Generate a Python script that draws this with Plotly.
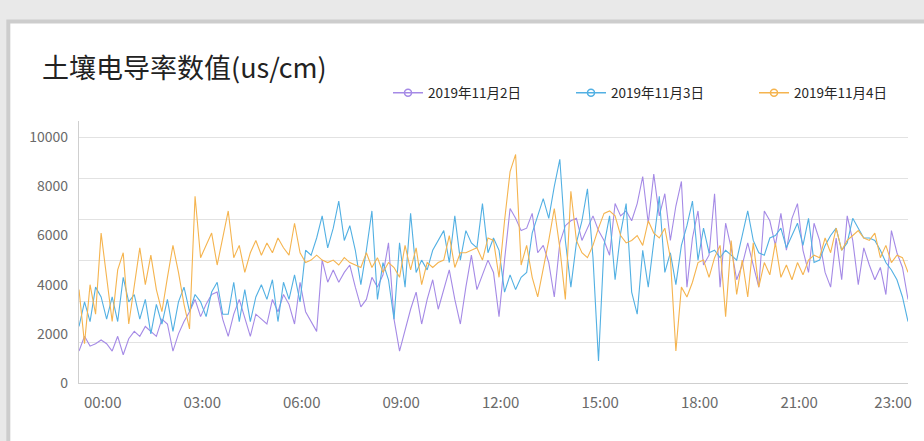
import plotly.graph_objects as go

# ---- data ----
title_text = "土壤电导率数值(us/cm)"
series_names = ["2019年11月2日", "2019年11月3日", "2019年11月4日"]
colors = ["#a58ae6", "#52b0e3", "#f5b44f"]

# sample times in minutes from midnight (10-minute sampling)
minutes = [-43 + 10 * i for i in range(151)]

purple = [1300, 1900, 1500, 1600, 1750, 1600, 1300, 1900, 1150, 1800,
          2100, 1900, 2300, 2100, 1900, 2600, 2400, 1300, 2000, 2500,
          2900, 3400, 2700, 3200, 3600,
          3700, 2600, 1900, 2800, 3400, 2700, 1900, 2800, 2600, 2400,
          3400, 2900, 3600, 3200, 2400, 4100, 2900, 2500, 2100, 5000,
          4100, 4600, 4100, 4500, 4800,
          3900, 3100, 3400, 4300, 3900, 4400, 5700, 2600, 1300, 2200,
          3000, 3700, 2400, 3400, 4200, 3000, 3800, 4600, 3400, 2400,
          3900, 5200, 3800, 4400, 5000,
          4500, 2700, 5000, 7100, 6700, 6200, 6300, 6900, 5300, 5600,
          4900, 3500, 5700, 6400, 6600, 6700, 5800, 6300, 6800, 6200,
          5800, 5200, 7300, 6800, 7000, 6600,
          7300, 8400, 6500, 8500, 6800, 7700, 5800, 7200, 8200, 3900,
          5900, 7000, 4800, 5200, 7700, 3900, 6500, 5500, 4200, 4800,
          5700, 4800, 3900, 7000, 6600,
          5600, 6900, 5400, 6700, 7300, 5400, 4500, 6500, 5800, 4500,
          3900, 5900, 4200, 6800, 5800, 4000, 5500, 4800, 4200, 4700,
          3600, 6200, 5300, 4700, 3400]

blue = [2300, 3300, 2500, 3900, 3500, 2600, 3500, 2500, 4300, 3300,
        3600, 2600, 3400, 2000, 3200, 2400, 3400, 2100, 3300, 3900,
        2900, 3600, 3300, 2700, 3700,
        4100, 2800, 2800, 4100, 2500, 3800, 2500, 3500, 4000, 3400,
        4200, 2500, 4100, 3400, 4400, 3300, 5400, 5200, 5900, 6800,
        5500, 6300, 7400, 5800, 6400,
        5400, 4000, 5400, 7000, 3400, 4900, 4200, 2600, 5700, 3900,
        6900, 4500, 5000, 4600, 5400, 5800, 6200, 4900, 6800, 5000,
        6200, 5700, 5500, 7300, 5300,
        5900, 5400, 3700, 4400, 3800, 4300, 4500, 6100, 6800, 7500,
        6700, 8000, 9100, 5800, 3900, 5700, 6600, 7900, 5100, 900,
        5600, 6800, 4200, 6100, 7300, 3700,
        2800, 5400, 3900, 5800, 7600, 4500, 5300, 4000, 5600, 6400,
        7400, 5000, 6300, 5300, 5400, 5100, 5400, 5200, 5000, 6000,
        7000, 5800, 5300, 5200, 5900,
        6000, 6300, 5500, 6000, 6500, 5600, 6700, 4900, 5000, 5600,
        6000, 6300, 5400, 5700, 6700, 6300, 5900, 5900, 5800, 5400,
        4900, 4600, 4200, 3500, 2500]

orange = [3800, 1600, 4000, 2800, 6100, 4300, 2500, 4600, 5300, 2400,
          4000, 5500, 4000, 5200, 3800, 2900, 4300, 5600, 4500, 3200,
          2200, 7600, 5100, 5600, 6100,
          4800, 5900, 7000, 5100, 5600, 4500, 5300, 5800, 5200, 5700,
          5300, 5900, 5500, 5200, 6500, 5300, 4900, 5000, 5200, 5000,
          4900, 5000, 4800, 5100, 4900,
          4800, 4700, 5300, 4700, 5100, 4500, 4900, 4700, 4300, 5600,
          4600, 5500, 4000, 4900, 4700, 4900, 5000, 6000, 4700, 5300,
          5300, 5400, 5500, 5000, 5900,
          5800, 4300, 6600, 8600, 9300, 4800, 5600, 4300, 3500, 4600,
          5800, 7100, 5500, 3400, 7800, 5800, 5300, 5100, 5600, 6300,
          6900, 7000, 6800, 6000, 5700, 5800,
          6000, 5600, 6600, 6100, 5900, 6300, 5100, 1300, 3900, 3500,
          4100, 4900, 5000, 4300, 5100, 5600, 2700, 5800, 3600, 5000,
          3500, 5700, 3900, 4900, 4400,
          5700, 4300, 4800, 4200, 4900, 4400, 5000, 5200, 5100, 5900,
          5300, 6300, 5400, 5800, 6000, 6200, 5900, 5800, 6100, 5100,
          5600, 4900, 5200, 5100, 4500]

y_label_ticks = [0, 2000, 4000, 6000, 8000, 10000]
y_label_text = ["0", "2000", "4000", "6000", "8000", "10000"]
grid_ticks = [0, 10000 / 6, 20000 / 6, 5000, 40000 / 6, 50000 / 6, 10000]
x_tick_vals = [0, 180, 360, 540, 720, 900, 1080, 1260, 1430]
x_tick_text = ["00:00", "03:00", "06:00", "09:00", "12:00", "15:00", "18:00", "21:00", "23:00"]

# ---- figure ----
FONT = "Noto Sans CJK SC, Noto Sans, sans-serif"
fig = go.Figure()

for name, vals, col in zip(series_names, [purple, blue, orange], colors):
    fig.add_trace(go.Scatter(
        x=minutes, y=vals, mode="lines", name=name,
        line=dict(color=col, width=1.1), showlegend=False,
        hovertemplate="%{y}<extra>" + name + "</extra>"))

# legend entries (line with hollow circle)
for name, col in zip(series_names, colors):
    fig.add_trace(go.Scatter(
        x=[None], y=[None], mode="lines+markers", name=name, yaxis="y2",
        line=dict(color=col, width=1.5),
        marker=dict(symbol="circle-open", size=7, color=col, line=dict(width=1.5)),
        showlegend=True))

W, H = 924, 441
L, R, T, B = 79, 12, 118, 58
pw, ph = W - L - R, H - T - B


def px(x):
    return (x - L) / pw


def py(y):
    return (H - B - y) / ph


shapes = [
    # card shadow and card
    dict(type="rect", xref="paper", yref="paper", x0=px(6), x1=px(930), y0=py(450), y1=py(16),
         fillcolor="#cdcdcd", line_width=0, layer="below"),
    dict(type="rect", xref="paper", yref="paper", x0=px(10), x1=px(930), y0=py(450), y1=py(20),
         fillcolor="white", line_width=0, layer="below"),
]

fig.update_layout(
    width=W, height=H,
    margin=dict(l=L, r=R, t=T, b=B),
    paper_bgcolor="#e9e9e9",
    plot_bgcolor="white",
    shapes=shapes,
    title=dict(text=title_text, x=42 / W, xref="container", xanchor="left",
               y=1 - 69 / H, yref="container", yanchor="middle",
               font=dict(family=FONT, size=27, color="#222222")),
    legend=dict(orientation="h", xref="container", yref="container",
                x=388 / W, xanchor="left", y=1 - 93 / H, yanchor="middle",
                font=dict(family=FONT, size=13.5, color="#262626"),
                bgcolor="rgba(0,0,0,0)", entrywidth=138, entrywidthmode="pixels",
                itemwidth=30),
    xaxis=dict(range=[minutes[0], minutes[-1]], tickvals=x_tick_vals, ticktext=x_tick_text,
               showgrid=False, zeroline=False, showline=True, linecolor="#cfcfcf", linewidth=1,
               ticks="", ticklabelstandoff=6,
               tickfont=dict(family=FONT, size=15, color="#6a6a6a")),
    yaxis=dict(range=[0, 10680], tickvals=grid_ticks, showticklabels=False,
               showgrid=True, gridcolor="#e2e2e2", gridwidth=1, zeroline=False,
               showline=True, linecolor="#cfcfcf", linewidth=1, ticks=""),
    yaxis2=dict(range=[0, 10680], overlaying="y", side="left", tickvals=y_label_ticks,
                ticktext=y_label_text,
                showgrid=False, zeroline=False, showline=False, ticks="",
                ticklabelstandoff=10,
                tickfont=dict(family=FONT, size=14, color="#6a6a6a")),
)

fig.write_html("out.html", config={"displayModeBar": False},
               post_script="document.body.style.margin='0';")
